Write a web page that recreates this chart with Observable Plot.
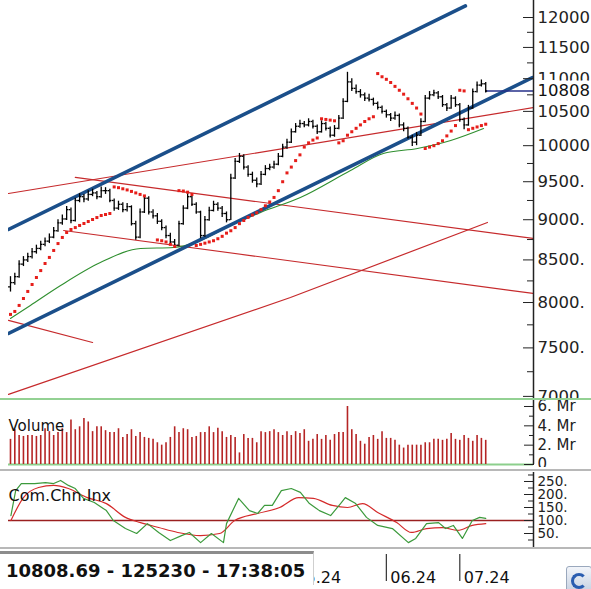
<!DOCTYPE html>
<html>
<head>
<meta charset="utf-8">
<script src="https://cdn.jsdelivr.net/npm/d3@7"></script>
<script src="https://cdn.jsdelivr.net/npm/@observablehq/plot@0.6"></script>
<style>
html,body{margin:0;padding:0;background:#fff;}
#wrap{position:relative;width:591px;height:589px;overflow:hidden;background:#fff;font-family:"DejaVu Sans",sans-serif;}
#wrap > *{position:absolute;left:0;}
#box{top:551px;width:314px;height:34px;box-sizing:border-box;border-top:3px solid #8c8c8c;border-right:1px solid #cfcfcf;background:#fff;font-weight:bold;font-size:18px;line-height:33px;padding-left:6px;white-space:nowrap;color:#111;}
#icon{top:566px;width:24px;height:24px;background:linear-gradient(#f2f5fa,#c8d2e2);border:1px solid #9aa8bd;border-radius:3px;}
#icon::before{content:"";position:absolute;left:4px;top:6px;width:10px;height:10px;border-radius:50%;border:3px solid #2a5db0;border-right-color:transparent;}
</style>
</head>
<body>
<div id="wrap"></div>
<script>
// ---------- data ----------
const open = [8180,8230,8300,8450,8500,8540,8600,8640,8690,8730,
8780,8860,8960,9010,9130,8990,9250,9300,9270,9330,
9350,9300,9380,9380,9250,9150,9200,9130,9170,8950,
8780,9100,9280,9100,9050,8980,8900,8800,8720,8680,
8950,9150,9300,9200,9100,8800,9000,9120,9200,9150,
9080,9000,9550,9780,9850,9700,9600,9520,9470,9600,
9680,9700,9740,9850,9980,10050,10200,10280,10320,10300,
10350,10280,10200,10320,10250,10150,10250,10400,10650,10950,
10850,10800,10750,10700,10680,10620,10560,10500,10450,10400,
10440,10300,10250,10120,10050,10150,10350,10700,10750,10780,
10720,10600,10550,10700,10600,10380,10300,10550,10800,10900,
10920];
const high = [8300,8340,8490,8540,8580,8640,8680,8730,8770,8820,
8900,9000,9060,9170,9150,9280,9340,9330,9380,9400,
9370,9430,9420,9400,9270,9240,9220,9210,9180,8980,
9140,9300,9300,9130,9080,9000,8920,8830,8750,8980,
9180,9340,9320,9220,9110,9040,9160,9240,9220,9170,
9100,9600,9820,9890,9870,9720,9630,9550,9640,9720,
9740,9780,9890,10020,10090,10240,10320,10370,10350,10390,
10370,10300,10360,10340,10270,10290,10440,10690,11100,11000,
10900,10830,10780,10760,10700,10640,10580,10520,10470,10490,
10460,10330,10270,10150,10190,10390,10740,10800,10820,10800,
10740,10620,10740,10720,10620,10400,10590,10840,10950,10980,
10940];
const low = [8120,8200,8280,8420,8470,8510,8570,8610,8660,8700,
8760,8840,8930,8990,8950,8970,9220,9220,9240,9300,
9260,9280,9330,9220,9110,9120,9090,9100,8920,8740,
8760,9080,9060,9010,8940,8860,8760,8690,8640,8660,
8930,9130,9170,9070,8760,8780,8980,9100,9110,9030,
8960,8990,9530,9750,9660,9560,9480,9420,9450,9580,
9650,9670,9720,9830,9950,10030,10180,10250,10260,10270,
10240,10160,10180,10210,10110,10120,10230,10380,10630,10800,
10760,10700,10650,10640,10580,10520,10460,10400,10350,10370,
10260,10200,10090,9990,10000,10130,10330,10670,10720,10680,
10560,10500,10530,10560,10340,10230,10280,10530,10780,10870,
10780];
const close = [8230,8300,8450,8500,8540,8600,8640,8690,8730,8780,
8860,8960,9010,9130,8990,9250,9300,9270,9330,9350,
9300,9380,9380,9250,9150,9200,9130,9170,8950,8780,
9100,9280,9100,9050,8980,8900,8800,8720,8680,8950,
9150,9300,9200,9100,8800,9000,9120,9200,9150,9080,
9000,9550,9780,9850,9700,9600,9520,9470,9600,9680,
9700,9740,9850,9980,10050,10200,10280,10320,10300,10350,
10280,10200,10320,10250,10150,10250,10400,10650,10950,10850,
10800,10750,10700,10680,10620,10560,10500,10450,10400,10440,
10300,10250,10120,10050,10150,10350,10700,10750,10780,10720,
10600,10550,10700,10600,10380,10300,10550,10800,10900,10920,
10808.69];
// volume, millions
const volumeM = [2.6,3.6,3.0,2.9,3.0,3.0,2.9,3.0,3.7,3.4,3.0,3.3,3.7,
3.3,4.6,3.6,3.9,4.75,4.4,3.4,3.9,3.9,3.5,3.3,3.3,3.7,
2.8,3.1,3.6,2.9,3.3,2.8,2.7,2.6,2.25,2.0,2.25,2.8,3.9,
3.3,3.7,3.6,2.8,2.9,3.3,3.3,3.9,3.3,3.75,3.4,2.8,3.0,2.8,
1.2,
3.1,2.7,2.7,2.25,3.4,3.3,3.4,3.6,3.3,3.0,3.4,3.0,3.4,3.2,3.6,2.4,2.6,3.1,2.6,3.0,2.5,3.1,3.3,3.3,
6.0,
3.6,3.1,2.4,2.1,2.8,3.0,2.6,3.4,2.7,2.7,2.5,2.0,1.7,2.0,2.0,2.0,2.0,2.25,2.25,2.6,2.6,2.5,2.6,3.2,2.6,2.5,3.0,2.7,2.4,3.0,2.7,2.5];
// parabolic SAR dots [bar index, value]
const sar = [[0,7866],[1,7899],[2,7967],[3,8046],[4,8127],[5,8208],[6,8290],[7,8372],[8,8457],[9,8530],
[10,8615],[11,8700],[12,8776],[13,8838],[14,8876],[15,8900],[16,8927],[17,8952],[18,8977],[19,9003],
[20,9028],[21,9054],[22,9067],[23,9080],
[24,9430],[25,9420],[26,9405],[27,9390],[28,9370],[29,9350],[30,9330],[31,9310],
[34,8745],[35,8735],[36,8720],[37,8690],[38,8665],
[39,9380],[40,9375],[41,9360],[42,9330],
[43,8676],[44,8690],[45,8705],[46,8720],[47,8735],[48,8760],[49,8790],[50,8830],
[51,8860],[52,8900],[53,8950],[54,8990],[55,9030],[56,9060],[57,9090],[58,9130],[59,9180],[60,9230],
[61,9290],[62,9380],[63,9500],[64,9620],[65,9700],[66,9790],[67,9870],[68,9980],[69,10040],[70,10080],[71,10110],
[72,10390],[73,10380],[74,10370],[75,10360],
[76,10040],[77,10070],[78,10150],[79,10200],[80,10250],[81,10300],[82,10350],[83,10390],[84,10420],
[85,11080],[86,11030],[87,10990],[88,10940],[89,10880],[90,10820],[91,10760],[92,10690],[93,10620],[94,10550],[95,10460],
[96,9960],[97,9980],[98,10000],[99,10030],[100,10070],[101,10140],[102,10210],[103,10290],
[104,10820],[105,10810],
[106,10230],[107,10250],[108,10270],[109,10290],[110,10310]];
// moving average (green) [bar index, value]
const maGreen = [[0,7821],[4.6,7967],[11.6,8196],[20.8,8468],[30.1,8639],[37.7,8651],[44,8738],[50.9,8927],
[57.9,9094],[67.1,9289],[78.7,9653],[86.3,9889],[94.2,9960],[101.9,10074],[109.5,10247]];
// trend channel (blue) [bar index, value]
const blueUpper = [[-0.46,8876],[105.3,12199]];
const blueLower = [[-0.46,7656],[120.8,11018]];
// red trend lines [bar index, value]
const redLines = [
  [[-0.46,9342],[121.06,10557]],
  [[15.0,9558],[121.06,8763]],
  [[12.3,8863],[121.06,8104]],
  [[-0.46,7020],[64.8,8057],[110.4,8965]],
  [[-0.46,7799],[19,7558]]
];
// commodity channel index [bar index, value]
const cciGreen = [[0.1,119],[1.2,215],[2.5,242],[5.6,242],[8.1,246],[10,242],[11.6,254],[13.4,235],[15,223],
[16.9,185],[19.4,169],[22.2,138],[23.8,100],[26.6,69],[29.2,50],[31.7,88],[34.3,54],[37,23],[39.6,42],
[41.4,54],[44,15],[46.5,50],[49.3,15],[50,88],[52.8,185],[55.3,138],[57.2,127],[58.8,158],[60.6,158],
[62.7,215],[65,223],[67.1,208],[69.2,165],[71.5,138],[74.1,119],[76.4,165],[77.5,188],[79.9,165],
[82.4,112],[85,81],[88.4,69],[92.1,15],[93.8,31],[96.3,88],[99.1,92],[100.7,69],[102.5,81],[104.6,31],
[106.9,100],[108.6,112],[110,108]];
const cciRed = [[0.1,100],[3,188],[6.5,227],[10,235],[13.4,223],[17.8,188],[22.2,165],[26.6,112],[30.1,92],
[34.3,73],[38.7,54],[44,42],[48.4,50],[51.9,100],[57.2,127],[62.3,150],[66.7,188],[70.1,185],[74.5,158],
[78,150],[81.5,165],[85,131],[89.4,92],[92.8,54],[96.3,69],[100,73],[103.5,62],[106.9,81],[110,88]];
const cciLevel = 100;
// axis ticks
const priceMajor = [7000,7500,8000,8500,9000,9500,10000,10500,11000,11500,12000];
const priceMinor = [7250,7750,8250,8750,9250,9750,10250,10750,11250,11750];
const volMajor = [0,2,4,6];
const volMinor = [1,3,5];
const cciMajor = [50,100,150,200,250];
const cciMinor = [25,75,125,175,225,275];
// month starts [bar index, label]
const months = [[65,"05.24"],[87,"06.24"],[104,"07.24"]];
const lastLabel = "10808.69 - 125230 - 17:38:05";

// ---------- drawing ----------
const X_DOMAIN = [-0.46, 121.06];
const RED = "#c62a2c", SARRED = "#e61e1a", BLUE = "#1b4f8a", GREEN = "#2f8f2f";
const baseStyle = {fontFamily: "DejaVu Sans", fontSize: "16px", overflow: "hidden", background: "transparent", color: "#111"};
const pts = a => a.map(([i, v]) => ({i, v}));
const priceFmt = d => d >= 10000 ? `${Math.floor(d)}` : `${Math.floor(d)}.`;
const N = close.length;
const bars = close.map((c, i) => ({i, o: open[i], h: high[i], l: low[i], c}));
const wrap = document.getElementById("wrap");
function place(el, top) { el.style.top = top + "px"; wrap.appendChild(el); }
function bar(top, h, color) { const d = document.createElement("div"); d.style.width = "591px"; d.style.height = h + "px"; d.style.background = color; place(d, top); }

const price = Plot.plot({
  width: 591, height: 398, marginLeft: 8, marginRight: 58, marginTop: 0, marginBottom: 0,
  style: baseStyle,
  x: {domain: X_DOMAIN, axis: null},
  y: {type: "log", domain: [6979, 12294], axis: null},
  marks: [
    ...redLines.map(l => Plot.line(pts(l), {x: "i", y: "v", stroke: RED, strokeWidth: 1.2, clip: true})),
    Plot.line(pts(maGreen), {x: "i", y: "v", stroke: GREEN, strokeWidth: 1.1, curve: "monotone-x", clip: true}),
    Plot.line(pts(blueUpper), {x: "i", y: "v", stroke: BLUE, strokeWidth: 3.6, clip: true}),
    Plot.line(pts(blueLower), {x: "i", y: "v", stroke: BLUE, strokeWidth: 3.6, clip: true}),
    Plot.ruleY([close[N - 1]], {x1: N - 1, x2: X_DOMAIN[1], stroke: "#26308a", strokeWidth: 1.3}),
    Plot.ruleX(bars, {x: "i", y1: "l", y2: "h", stroke: "#000", strokeWidth: 1.3}),
    Plot.ruleY(bars, {y: "o", x1: d => d.i - 0.45, x2: "i", stroke: "#000", strokeWidth: 1.3}),
    Plot.ruleY(bars, {y: "c", x1: "i", x2: d => d.i + 0.45, stroke: "#000", strokeWidth: 1.3}),
    Plot.dot(pts(sar), {x: "i", y: "v", symbol: "square", r: 1.7, fill: SARRED, stroke: null}),
    Plot.ruleX([X_DOMAIN[1]], {stroke: "#222", strokeWidth: 1.5}),
    Plot.axisY({anchor: "right", ticks: priceMinor, tickSize: -7, tickFormat: () => "", label: null, color: "#222"}),
    Plot.axisY({anchor: "right", ticks: priceMajor, tickSize: -11, tickPadding: 15, tickFormat: priceFmt, label: null, color: "#222", fontSize: 16.5}),
    Plot.text([close[N - 1]], {x: X_DOMAIN[1], y: d => d, text: priceFmt, dx: 4, textAnchor: "start",
      fill: "#111", stroke: "white", strokeWidth: 8, paintOrder: "stroke", fontSize: 16.5})
  ]
});
place(price, 0);
bar(398, 2, "#93d193");

const vol = volumeM.map((v, i) => ({i, v}));
const volume = Plot.plot({
  width: 591, height: 67, marginLeft: 8, marginRight: 58, marginTop: 0, marginBottom: 3,
  style: baseStyle,
  x: {domain: X_DOMAIN, axis: null},
  y: {domain: [0, 6.62], axis: null},
  marks: [
    Plot.ruleY([0], {stroke: "#8ccf8c", strokeWidth: 2}),
    Plot.ruleX(vol, {x: "i", y1: 0, y2: "v", stroke: "#b52525", strokeWidth: 1.6}),
    Plot.text(["Volume"], {frameAnchor: "top-left", dy: 20, textAnchor: "start", fontSize: 15, fill: "#111"}),
    Plot.ruleX([X_DOMAIN[1]], {stroke: "#222", strokeWidth: 1.5}),
    Plot.axisY({anchor: "right", ticks: volMinor, tickSize: -5, tickFormat: () => "", label: null, color: "#222"}),
    Plot.axisY({anchor: "right", ticks: volMajor, tickSize: -10, tickPadding: 14, tickFormat: d => d === 0 ? "0" : `${d}. Mr`, label: null, color: "#222", fontSize: 15})
  ]
});
place(volume, 400);
bar(469, 2, "#b8b8b8");

const cci = Plot.plot({
  width: 591, height: 75, marginLeft: 8, marginRight: 58, marginTop: 0, marginBottom: 0,
  style: baseStyle,
  x: {domain: X_DOMAIN, axis: null},
  y: {domain: [-3.8, 284.6], axis: null},
  marks: [
    Plot.ruleY([cciLevel], {stroke: "#9a2020", strokeWidth: 1.6}),
    Plot.line(pts(cciRed), {x: "i", y: "v", stroke: "#d42a2a", strokeWidth: 1.2, curve: "monotone-x", clip: true}),
    Plot.line(pts(cciGreen), {x: "i", y: "v", stroke: "#3c9a3c", strokeWidth: 1.2, clip: true}),
    Plot.text(["Com.Chn.Inx"], {frameAnchor: "top-left", dy: 17, textAnchor: "start", fontSize: 16, fill: "#111"}),
    Plot.ruleX([X_DOMAIN[1]], {stroke: "#222", strokeWidth: 1.5}),
    Plot.axisY({anchor: "right", ticks: cciMinor, tickSize: -6, tickFormat: () => "", label: null, color: "#222"}),
    Plot.axisY({anchor: "right", ticks: cciMajor, tickSize: -10, tickPadding: 14, tickFormat: d => `${d}.`, label: null, color: "#222", fontSize: 13.5})
  ]
});
place(cci, 472);
bar(547, 2, "#b8b8b8");

const dates = Plot.plot({
  width: 591, height: 40, marginLeft: 8, marginRight: 58, marginTop: 0, marginBottom: 0,
  style: baseStyle,
  x: {domain: X_DOMAIN, axis: null},
  marks: [
    Plot.ruleX(pts(months), {x: "i", insetTop: 5, insetBottom: 8, stroke: "#333", strokeWidth: 1.2}),
    Plot.text(months.map(([i, t]) => ({i, t})), {x: "i", text: "t", frameAnchor: "top", dy: 22, dx: 4, textAnchor: "start", fontSize: 16, fill: "#111"})
  ]
});
place(dates, 549);

const box = document.createElement("div");
box.id = "box"; box.textContent = lastLabel;
wrap.appendChild(box);
const icon = document.createElement("div");
icon.id = "icon"; icon.style.left = "566px";
wrap.appendChild(icon);
</script>
</body>
</html>
